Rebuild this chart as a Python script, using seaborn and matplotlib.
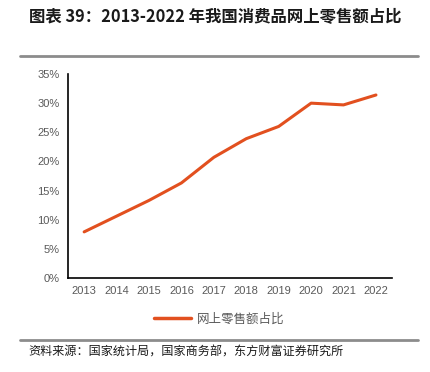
import pandas as pd
import seaborn as sns
import matplotlib.pyplot as plt
from matplotlib.lines import Line2D
from matplotlib.ticker import FuncFormatter, FixedLocator

# 2013-2022 online retail share of total retail sales
years = ["2013", "2014", "2015", "2016", "2017", "2018", "2019", "2020", "2021", "2022"]
share = [7.9, 10.6, 13.3, 16.3, 20.7, 23.9, 26.0, 30.0, 29.7, 31.4]
series_name = "网上零售额占比"
title = "图表 39：2013-2022 年我国消费品网上零售额占比"
source = "资料来源：国家统计局，国家商务部，东方财富证券研究所"

df = pd.DataFrame({"year": years, "share": share})
df["pos"] = range(len(df))

sns.set_style("white")
plt.rcParams["font.family"] = ["Noto Sans CJK SC", "DejaVu Sans"]

line_color = "#E2501F"
text_gray = "#595959"

fig = plt.figure(figsize=(4.3, 3.72), dpi=100)
ax = fig.add_axes([0.158, 0.253, 0.754, 0.548])

sns.lineplot(data=df, x="pos", y="share", ax=ax, color=line_color, linewidth=2.2)

ax.set_xlim(-0.5, len(years) - 0.5)
ax.set_ylim(0, 35)
ax.set_yticks(range(0, 36, 5))
ax.yaxis.set_major_formatter(FuncFormatter(lambda v, p: f"{v:.0f}%"))
ax.set_xticks(df["pos"])
ax.set_xticklabels(years)
ax.xaxis.set_minor_locator(FixedLocator([i + 0.5 for i in range(len(years))]))
ax.tick_params(axis="x", which="major", length=0, pad=6)
ax.tick_params(axis="x", which="minor", direction="in", length=4, width=1, color="black")
ax.tick_params(axis="y", direction="in", length=3, width=1, color="black", pad=6)
for lab in ax.get_xticklabels() + ax.get_yticklabels():
    lab.set_fontfamily("Liberation Sans")
    lab.set_fontsize(8)
    lab.set_color(text_gray)
ax.set_xlabel("")
ax.set_ylabel("")
for side in ["top", "right"]:
    ax.spines[side].set_visible(False)
for side in ["left", "bottom"]:
    ax.spines[side].set_color("black")
    ax.spines[side].set_linewidth(1.2)
ax.grid(False)

# legend below the plot
handle = Line2D([0], [0], color=line_color, linewidth=2.5)
leg = fig.legend([handle], [series_name], loc="center", bbox_to_anchor=(0.51, 0.142),
                 frameon=False, fontsize=9, handlelength=2.9, handletextpad=0.5)
for t in leg.get_texts():
    t.set_color(text_gray)

# header / footer
fig.text(0.5, 0.955, title, ha="center", va="center", fontsize=11.8, fontweight="bold", color="#1a1a1a")
fig.add_artist(Line2D([0.047, 0.972], [0.849, 0.849], color="#8c8c8c", linewidth=2))
fig.add_artist(Line2D([0.047, 0.972], [0.086, 0.086], color="#8c8c8c", linewidth=2))
fig.text(0.065, 0.053, source, ha="left", va="center", fontsize=8.7, color="#1a1a1a")

fig.savefig("out.png", dpi=100)
